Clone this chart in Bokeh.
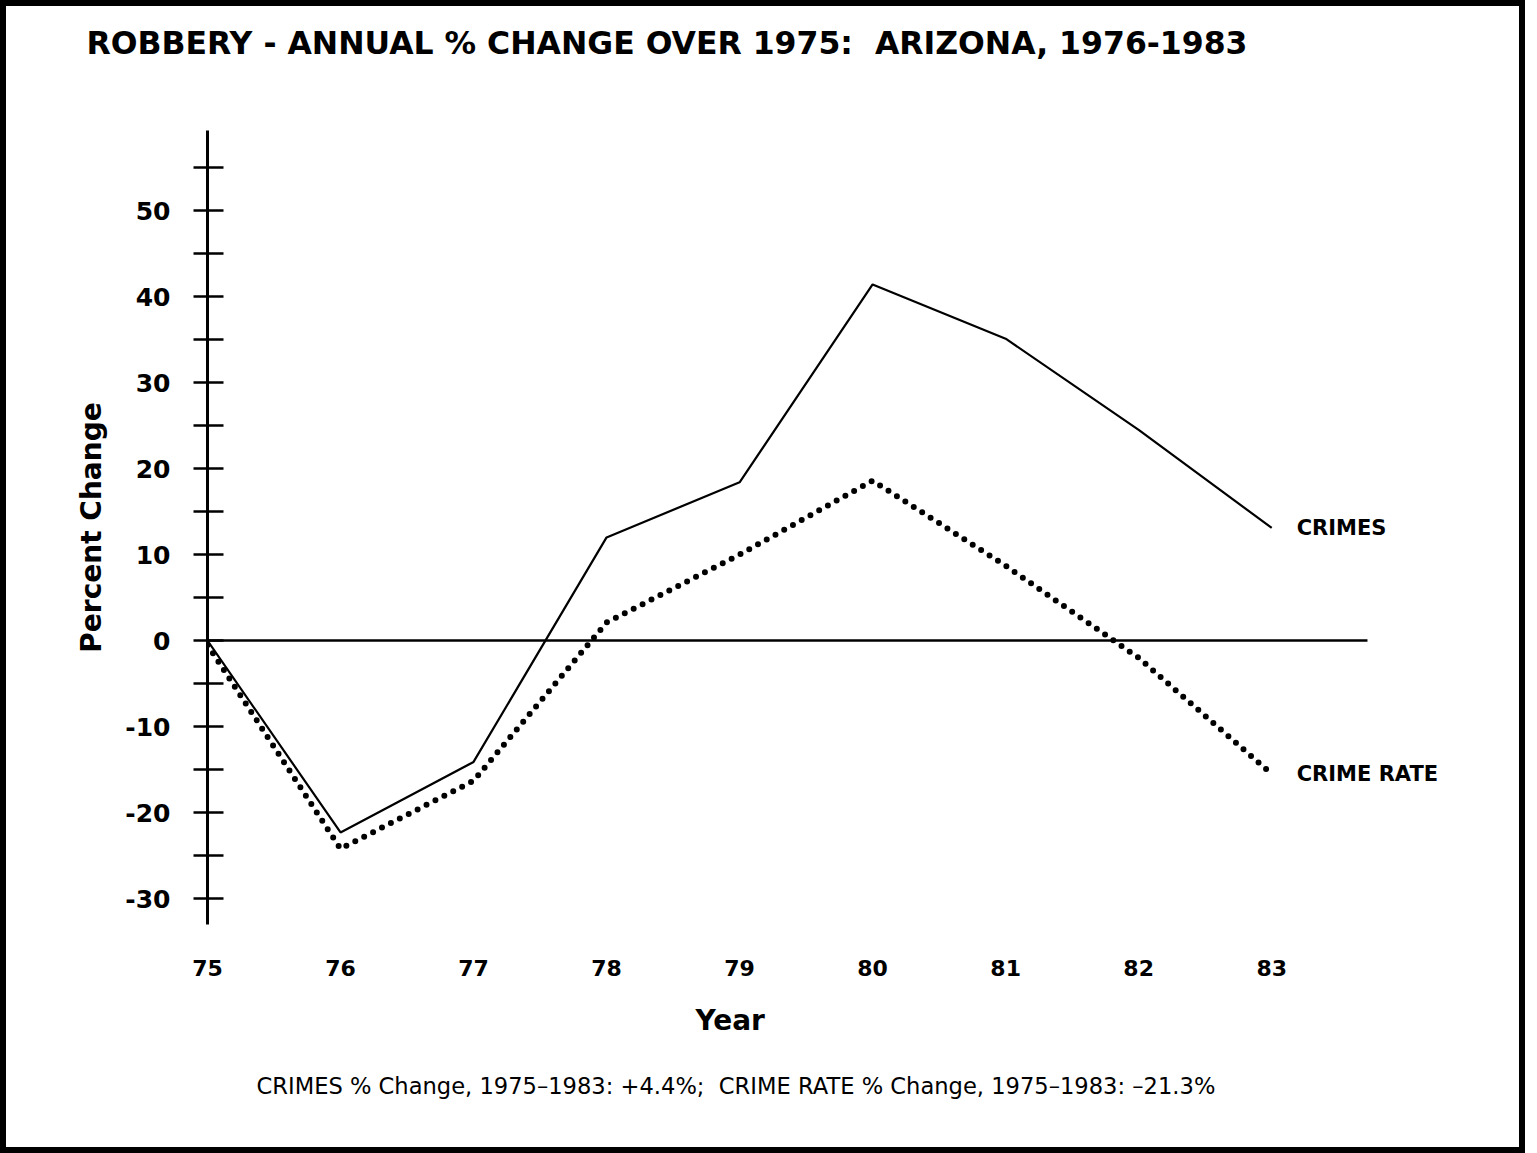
from bokeh.plotting import figure
from bokeh.models import Range1d, FixedTicker, Title, InlineStyleSheet
from bokeh.embed import file_html
from bokeh.resources import INLINE
from bokeh.core.properties import value

# ---- data ----
years = [75, 76, 77, 78, 79, 80, 81, 82, 83]
x_tick_labels = ["75", "76", "77", "78", "79", "80", "81", "82", "83"]
crimes = [0.0, -22.3, -14.1, 12.0, 18.4, 41.4, 35.1, 24.5, 13.1]
crime_rate = [-0.5, -24.2, -16.3, 2.1, 10.0, 18.6, 8.7, -2.0, -15.5]
y_major = [-30, -20, -10, 0, 10, 20, 30, 40, 50]
y_minor = [-25, -15, -5, 5, 15, 25, 35, 45, 55]
y_tick_labels = ["-30", "-20", "-10", "0", "10", "20", "30", "40", "50"]

title_text = "ROBBERY - ANNUAL % CHANGE OVER 1975:\u00a0 ARIZONA, 1976-1983"
footnote_text = "CRIMES % Change, 1975\u20131983: +4.4%;\u00a0 CRIME RATE % Change, 1975\u20131983: \u201321.3%"

FONT = "DejaVu Sans"

p = figure(width=1525, height=1153,
           x_range=Range1d(75, 84.72), y_range=Range1d(-33, 59.3),
           output_backend="svg", toolbar_location=None,
           min_border_left=207, min_border_top=130,
           min_border_bottom=229, min_border_right=25)
p.grid.visible = False
p.outline_line_color = None
p.background_fill_color = "white"
p.border_fill_color = "white"
p.stylesheets = [InlineStyleSheet(css=(
    ":host { position: relative; }"
    ":host::after { content: ''; position: absolute; left: 0; top: 0; right: 0; bottom: 0;"
    " border: 6px solid black; pointer-events: none; z-index: 1000; box-sizing: border-box; }"
))]

# keep references to the real axes
xa = p.below[0]
ya = p.left[0]

# x axis
xa.ticker = FixedTicker(ticks=years)
xa.major_label_overrides = {y: l for y, l in zip(years, x_tick_labels)}
xa.axis_line_color = None
xa.major_tick_line_color = None
xa.minor_tick_line_color = None
xa.major_label_standoff = 29
xa.major_label_text_font = FONT
xa.major_label_text_font_style = "bold"
xa.major_label_text_font_size = "22px"
xa.major_label_text_color = "black"

# y axis
ya.ticker = FixedTicker(ticks=y_major, minor_ticks=y_minor)
ya.major_label_overrides = {y: l for y, l in zip(y_major, y_tick_labels)}
ya.axis_line_width = 3
ya.axis_line_color = "black"
ya.major_tick_in = 16
ya.major_tick_out = 14
ya.minor_tick_in = 16
ya.minor_tick_out = 14
ya.major_tick_line_width = 2.5
ya.minor_tick_line_width = 2.5
ya.major_tick_line_color = "black"
ya.minor_tick_line_color = "black"
ya.major_label_standoff = 23
ya.major_label_text_font = FONT
ya.major_label_text_font_style = "bold"
ya.major_label_text_font_size = "25px"
ya.major_label_text_color = "black"
ya.axis_label = "Percent Change"
ya.axis_label_text_font = FONT
ya.axis_label_text_font_style = "bold"
ya.axis_label_text_font_size = "28px"
ya.axis_label_text_color = "black"
ya.axis_label_standoff = 14

# invisible spacer between frame and the main title
p.add_layout(Title(text=".", text_color="white", text_font_size="10px", standoff=55), "above")

# title (outermost)
p.title.text = title_text
p.title.align = "left"
p.title.offset = -121
p.title.standoff = 10
p.title.text_font = FONT
p.title.text_font_style = "bold"
p.title.text_font_size = "31.5px"
p.title.text_color = "black"

# x axis title ("Year") and footnote as titles below
p.add_layout(Title(text="Year", align="left", offset=488, standoff=46,
                   text_font=FONT, text_font_style="bold", text_font_size="28px",
                   text_color="black"), "below")
p.add_layout(Title(text=footnote_text, align="left", offset=49, standoff=23,
                   text_font=FONT, text_font_style="normal", text_font_size="22.6px",
                   text_color="black"), "below")

# zero reference line
p.segment(x0=[years[0]], y0=[0], x1=[83.72], y1=[0], line_color="black", line_width=2.5)

# series
p.line(years, crimes, line_color="black", line_width=2.2)
p.line(years, crime_rate, line_color="black", line_width=6, line_dash="0 10", line_cap="round")

# series labels
p.text(x=[years[-1]], y=[crimes[-1]], text=["CRIMES"], x_offset=25,
       text_baseline="middle", text_align="left", text_font=value(FONT),
       text_font_style="bold", text_font_size="21px", text_color="black")
p.text(x=[years[-1]], y=[crime_rate[-1]], text=["CRIME RATE"], x_offset=25,
       text_baseline="middle", text_align="left", text_font=value(FONT),
       text_font_style="bold", text_font_size="21px", text_color="black")

open("out.html", "w").write(file_html(p, INLINE))
